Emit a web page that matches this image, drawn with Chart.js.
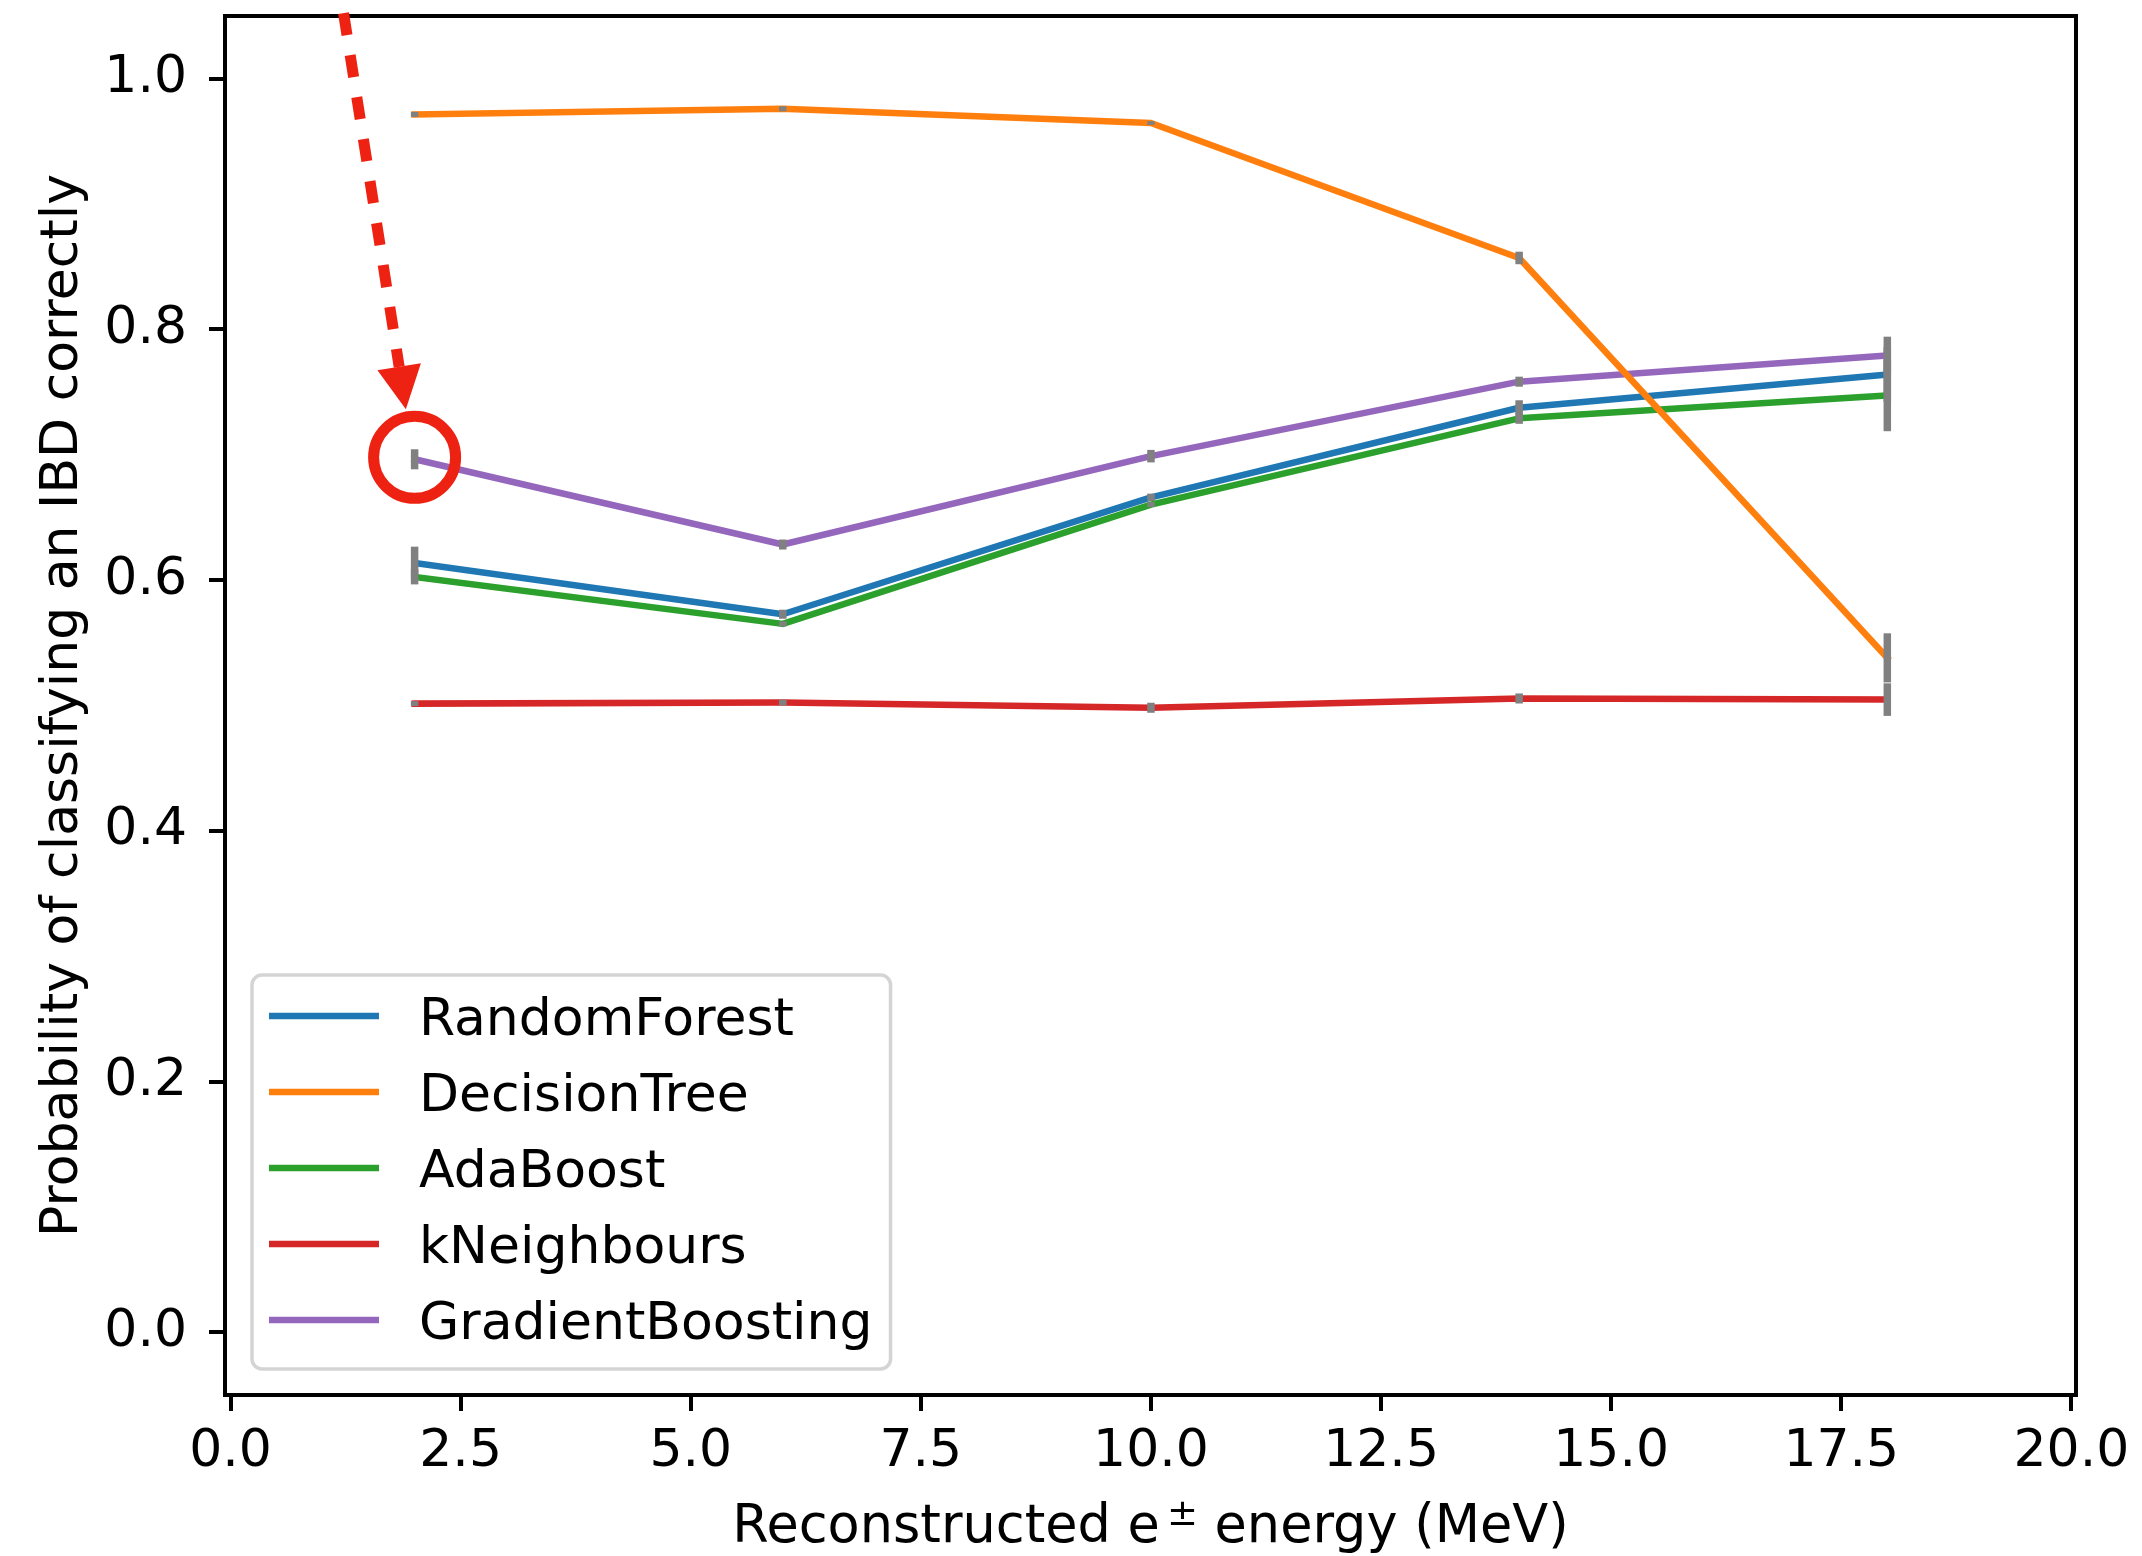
<!DOCTYPE html>
<html>
<head>
<meta charset="utf-8">
<script src="https://cdn.jsdelivr.net/npm/chart.js@4/dist/chart.umd.min.js"></script>
<style>
  html, body { margin: 0; padding: 0; background: #ffffff; }
  canvas { display: block; }
</style>
</head>
<body>
<canvas id="chart" width="2142" height="1556"></canvas>
<script>
// Energy bins (MeV) at which each classifier was evaluated
const energies = [2, 6, 10, 14, 18];

// Probability of correct IBD classification and its uncertainty, per classifier
const randomForest        = [0.6137, 0.5728, 0.6660, 0.7375, 0.7640];
const randomForestErr     = [0.0130, 0.0036, 0.0030, 0.0060, 0.0220];
const decisionTree        = [0.9715, 0.9760, 0.9646, 0.8570, 0.5380];
const decisionTreeErr     = [0.0020, 0.0020, 0.0015, 0.0050, 0.0196];
const adaBoost            = [0.6026, 0.5651, 0.6603, 0.7291, 0.7473];
const adaBoostErr         = [0.0060, 0.0020, 0.0020, 0.0044, 0.0285];
const kNeighbours         = [0.5015, 0.5023, 0.4982, 0.5056, 0.5047];
const kNeighboursErr      = [0.0020, 0.0024, 0.0040, 0.0040, 0.0130];
const gradientBoosting    = [0.6964, 0.6284, 0.6989, 0.7583, 0.7792];
const gradientBoostingErr = [0.0080, 0.0040, 0.0050, 0.0040, 0.0150];

const seriesNames = ['RandomForest', 'DecisionTree', 'AdaBoost', 'kNeighbours', 'GradientBoosting'];

// Axis ticks
const xTickValues = [0, 2.5, 5, 7.5, 10, 12.5, 15, 17.5, 20];
const yTickValues = [0, 0.2, 0.4, 0.6, 0.8, 1.0];

const FONT = '"DejaVu Sans", "Liberation Sans", sans-serif';
const FONT_PX = 52;
const X_TITLE_PX = 52.5;
const Y_TITLE_PX = 52;
const ERR_COLOR = '#808080';
const MARK_RED = '#ee2212';

function toPoints(ys) { return energies.map((x, i) => ({ x: x, y: ys[i] })); }

function series(label, values, errors, color, order) {
  return {
    label: label,
    data: toPoints(values),
    errors: errors,
    borderColor: color,
    backgroundColor: color,
    borderWidth: 6.5,
    borderCapStyle: 'square',
    borderJoinStyle: 'round',
    pointRadius: 0,
    pointHoverRadius: 0,
    tension: 0,
    fill: false,
    order: order
  };
}

// Vertical grey error bars, painted right after the line they belong to
const errorBars = {
  id: 'errorBars',
  afterDatasetDraw(chart, args) {
    const ds = chart.data.datasets[args.index];
    if (!ds.errors) return;
    const ctx = chart.ctx, xs = chart.scales.x, ys = chart.scales.y;
    ctx.save();
    ctx.strokeStyle = ERR_COLOR;
    ctx.lineWidth = 7.5;
    ctx.lineCap = 'butt';
    ds.data.forEach((p, i) => {
      const e = ds.errors[i];
      const px = xs.getPixelForValue(p.x);
      ctx.beginPath();
      ctx.moveTo(px, ys.getPixelForValue(p.y - e));
      ctx.lineTo(px, ys.getPixelForValue(p.y + e));
      ctx.stroke();
    });
    ctx.restore();
  }
};

// Highlight of the first GradientBoosting point with a dashed arrow pointing at it
const callout = {
  arrowFrom: { x: 1.228, y: 1.0523 },
  arrowTo:   { x: 1.905, y: 0.7363 },
  series: 4,
  index: 0
};

const decorations = {
  id: 'decorations',
  beforeDraw(chart) {
    const ctx = chart.ctx;
    ctx.save();
    ctx.fillStyle = '#ffffff';
    ctx.fillRect(0, 0, chart.width, chart.height);
    ctx.restore();
  },
  afterDraw(chart) {
    const ctx = chart.ctx;
    const a = chart.chartArea;
    const xs = chart.scales.x, ys = chart.scales.y;

    // Axes frame
    ctx.save();
    ctx.strokeStyle = '#000000';
    ctx.lineWidth = 4;
    ctx.lineJoin = 'miter';
    ctx.strokeRect(a.left, a.top, a.right - a.left, a.bottom - a.top);
    ctx.restore();

    // Y axis title
    ctx.save();
    ctx.fillStyle = '#000000';
    ctx.font = Y_TITLE_PX + 'px ' + FONT;
    ctx.textAlign = 'center';
    ctx.textBaseline = 'alphabetic';
    ctx.translate(76.5, (a.top + a.bottom) / 2);
    ctx.rotate(-Math.PI / 2);
    ctx.fillText('Probability of classifying an IBD correctly', 0, 0);
    ctx.restore();

    // X axis title with superscript ±
    ctx.save();
    ctx.fillStyle = '#000000';
    ctx.textBaseline = 'alphabetic';
    ctx.textAlign = 'left';
    const mainFont = X_TITLE_PX + 'px ' + FONT;
    const supFont = Math.round(X_TITLE_PX * 0.7) + 'px ' + FONT;
    const p1 = 'Reconstructed e', sup = '\u00b1', p2 = ' energy (MeV)';
    ctx.font = mainFont;
    const w1 = ctx.measureText(p1).width, w3 = ctx.measureText(p2).width;
    ctx.font = supFont;
    const w2 = ctx.measureText(sup).width;
    const gap = 7;
    const total = w1 + gap + w2 + w3;
    let tx = (a.left + a.right) / 2 - total / 2;
    const base = 1542;
    ctx.font = mainFont;
    ctx.fillText(p1, tx, base);
    tx += w1 + gap;
    ctx.font = supFont;
    ctx.fillText(sup, tx, base - 17);
    tx += w2;
    ctx.font = mainFont;
    ctx.fillText(p2, tx, base);
    ctx.restore();

    // Legend (lower left, inside the axes)
    ctx.save();
    ctx.font = FONT_PX + 'px ' + FONT;
    const dsList = chart.data.datasets;
    let maxW = 0;
    dsList.forEach(d => { maxW = Math.max(maxW, ctx.measureText(d.label).width); });
    const padL = 17, handleLen = 110, textGap = 40, padR = 18, rowGap = 76, firstRow = 41, lastPad = 49;
    const boxW = padL + handleLen + textGap + maxW + padR;
    const boxH = firstRow + rowGap * (dsList.length - 1) + lastPad;
    const bx = a.left + 27, by = a.bottom - 26 - boxH;
    ctx.beginPath();
    ctx.roundRect(bx, by, boxW, boxH, 10);
    ctx.fillStyle = 'rgba(255,255,255,0.8)';
    ctx.fill();
    ctx.strokeStyle = 'rgba(204,204,204,0.85)';
    ctx.lineWidth = 3.5;
    ctx.stroke();
    dsList.forEach((d, i) => {
      const ry = by + firstRow + i * rowGap;
      ctx.beginPath();
      ctx.moveTo(bx + padL, ry);
      ctx.lineTo(bx + padL + handleLen, ry);
      ctx.strokeStyle = d.borderColor;
      ctx.lineWidth = 6.5;
      ctx.lineCap = 'butt';
      ctx.stroke();
      ctx.fillStyle = '#000000';
      ctx.textAlign = 'left';
      ctx.textBaseline = 'alphabetic';
      ctx.fillText(d.label, bx + padL + handleLen + textGap, ry + 18.5);
    });
    ctx.restore();

    // Red circle around the highlighted point
    const hp = dsList[callout.series].data[callout.index];
    const cx = xs.getPixelForValue(hp.x), cy = ys.getPixelForValue(hp.y);
    ctx.save();
    ctx.strokeStyle = MARK_RED;
    ctx.lineWidth = 11;
    ctx.beginPath();
    ctx.arc(cx, cy - 2, 41, 0, Math.PI * 2);
    ctx.stroke();

    // Dashed arrow with a filled head
    const sx = xs.getPixelForValue(callout.arrowFrom.x), sy = ys.getPixelForValue(callout.arrowFrom.y);
    const ex = xs.getPixelForValue(callout.arrowTo.x), ey = ys.getPixelForValue(callout.arrowTo.y);
    const len = Math.hypot(ex - sx, ey - sy);
    const ux = (ex - sx) / len, uy = (ey - sy) / len;
    const headLen = 43, headHalf = 22;
    const hx = ex - ux * headLen, hy = ey - uy * headLen;
    ctx.setLineDash([22.3, 20.2]);
    ctx.lineCap = 'butt';
    ctx.beginPath();
    ctx.moveTo(sx, sy);
    ctx.lineTo(hx, hy);
    ctx.stroke();
    ctx.setLineDash([]);
    ctx.fillStyle = MARK_RED;
    ctx.beginPath();
    ctx.moveTo(ex, ey);
    ctx.lineTo(hx - uy * headHalf, hy + ux * headHalf);
    ctx.lineTo(hx + uy * headHalf, hy - ux * headHalf);
    ctx.closePath();
    ctx.fill();
    ctx.restore();
  }
};

const tickFont = { family: FONT, size: FONT_PX };

new Chart(document.getElementById('chart'), {
  type: 'line',
  data: {
    datasets: [
      series(seriesNames[0], randomForest, randomForestErr, '#1f77b4', 4),
      series(seriesNames[1], decisionTree, decisionTreeErr, '#ff7f0e', 0),
      series(seriesNames[2], adaBoost, adaBoostErr, '#2ca02c', 3),
      series(seriesNames[3], kNeighbours, kNeighboursErr, '#d62728', 2),
      series(seriesNames[4], gradientBoosting, gradientBoostingErr, '#9467bd', 1)
    ]
  },
  options: {
    responsive: false,
    animation: false,
    events: [],
    layout: { padding: { top: 16, right: 66, left: 0, bottom: 0 } },
    plugins: {
      legend: { display: false },
      tooltip: { enabled: false },
      title: { display: false }
    },
    scales: {
      x: {
        type: 'linear',
        min: -0.06,
        max: 20.05,
        afterFit(scale) {
          scale.height = 161;
          scale.paddingLeft = 0; scale.paddingRight = 0;
          scale.paddingTop = 0; scale.paddingBottom = 0;
        },
        afterBuildTicks(scale) { scale.ticks = xTickValues.map(v => ({ value: v })); },
        border: { display: false },
        grid: {
          display: true, drawOnChartArea: false, drawTicks: true,
          tickLength: 16, tickWidth: 4, lineWidth: 4, tickColor: '#000000', color: '#000000'
        },
        ticks: {
          autoSkip: false, maxRotation: 0, minRotation: 0,
          padding: 10, color: '#000000', font: tickFont,
          callback: v => Number(v).toFixed(1)
        }
      },
      y: {
        type: 'linear',
        min: -0.05,
        max: 1.05,
        afterFit(scale) {
          scale.width = 225;
          scale.paddingLeft = 0; scale.paddingRight = 0;
          scale.paddingTop = 0; scale.paddingBottom = 0;
        },
        afterBuildTicks(scale) { scale.ticks = yTickValues.map(v => ({ value: v })); },
        border: { display: false },
        grid: {
          display: true, drawOnChartArea: false, drawTicks: true,
          tickLength: 16, tickWidth: 4, lineWidth: 4, tickColor: '#000000', color: '#000000'
        },
        ticks: {
          autoSkip: false, padding: 22, color: '#000000', font: tickFont,
          callback: v => Number(v).toFixed(1)
        }
      }
    }
  },
  plugins: [errorBars, decorations]
});
</script>
</body>
</html>
